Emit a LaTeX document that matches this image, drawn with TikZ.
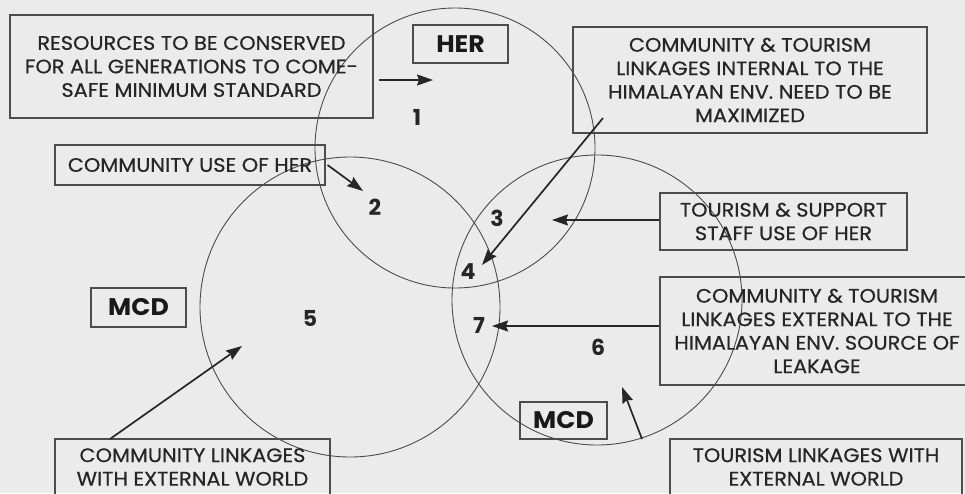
\documentclass[tikz,border=0pt]{standalone}
\usepackage{fontspec}
\setmainfont{Poppins}
\newfontfamily\bodyfont{Poppins}[FakeStretch=1.07, FakeBold=0.6]
\newfontfamily\tagfont{Poppins}[FakeStretch=1.05]
\usetikzlibrary{arrows.meta}
\begin{document}
\begin{tikzpicture}[x=1pt,y=-1pt,
  lbl/.style={draw=black!70, line width=1.1pt, align=center, inner sep=0pt,
    text=black!85, font=\bodyfont\fontsize{19.5}{23.5}\selectfont},
  tag/.style={draw=black!70, line width=1.1pt, inner sep=0pt, text=black!90,
    font=\tagfont\bfseries\fontsize{24}{24}\selectfont},
  num/.style={font=\bfseries\fontsize{22}{22}\selectfont, text=black!85},
  ring/.style={circle, draw=black!70, line width=0.9pt, inner sep=0pt},
  arr/.style={draw=black!85, line width=1.7pt,
    -{Stealth[length=16pt,width=11pt,inset=2pt]}}]
% page background and frame
\fill[black!8] (0,0) rectangle (965,493);
\useasboundingbox (0,0) rectangle (965,493);

% the three overlapping domains
\node[ring, minimum size=280] (her)  at (455,148) {};
\node[ring, minimum size=300] (mcdl) at (350,307) {};
\node[ring, minimum size=290] (mcdr) at (597,300) {};

% labelled boxes
\node[lbl, minimum width=363, minimum height=103] (res) at (191.5,66.5)
  {RESOURCES TO BE CONSERVED\\FOR ALL GENERATIONS TO COME-\\SAFE MINIMUM STANDARD};
\node[tag, minimum width=95, minimum height=38] (hertag) at (460.5,44) {HER};
\node[lbl, minimum width=270, minimum height=40] (cuse) at (190,165)
  {COMMUNITY USE OF HER};
\node[lbl, minimum width=354, minimum height=106] (intl) at (750,80)
  {COMMUNITY \& TOURISM\\LINKAGES INTERNAL TO THE\\HIMALAYAN ENV. NEED TO BE\\MAXIMIZED};
\node[lbl, minimum width=247, minimum height=57] (staff) at (783.5,221.5)
  {TOURISM \& SUPPORT\\STAFF USE OF HER};
\node[lbl, minimum width=314, minimum height=108] (extl) at (817,331)
  {COMMUNITY \& TOURISM\\LINKAGES EXTERNAL TO THE\\HIMALAYAN ENV. SOURCE OF\\LEAKAGE};
\node[tag, minimum width=87, minimum height=37] (mcdrtag) at (563.5,420.5) {MCD};
\node[lbl, minimum width=292, minimum height=56] (tour) at (816,467)
  {TOURISM LINKAGES WITH\\EXTERNAL WORLD};
\node[tag, minimum width=95, minimum height=39] (mcdltag) at (138.5,307.5) {MCD};
\node[lbl, minimum width=275, minimum height=56] (comm) at (192.5,467)
  {COMMUNITY LINKAGES\\WITH EXTERNAL WORLD};

% region numbers
\node[num] (n1) at (417,117) {1};
\node[num] (n2) at (375,207) {2};
\node[num] (n3) at (497,218) {3};
\node[num] (n4) at (468,272) {4};
\node[num] (n5) at (310,318) {5};
\node[num] (n6) at (598,347) {6};
\node[num] (n7) at (479,325) {7};

% arrow ends
\coordinate (t1) at (433,80);
\coordinate (t2) at (363,191);
\coordinate (s3) at (603,118);
\coordinate (t3) at (482,265);
\coordinate (t4) at (552,220);
\coordinate (t5) at (492,326);
\coordinate (s6) at (642,439);
\coordinate (t6) at (622,387);
\coordinate (s7) at (110,439);
\coordinate (t7) at (242,346);

% arrows
\draw[arr] ([xshift=5pt]res.east |- t1) -- (t1);
\draw[arr] ([xshift=2pt]cuse.east) -- (t2);
\draw[arr] (s3) -- (t3);
\draw[arr] (staff.west |- t4) -- (t4);
\draw[arr] (extl.west |- t5) -- (t5);
\draw[arr] (s6) -- (t6);
\draw[arr] (s7) -- (t7);
\end{tikzpicture}
\end{document}
